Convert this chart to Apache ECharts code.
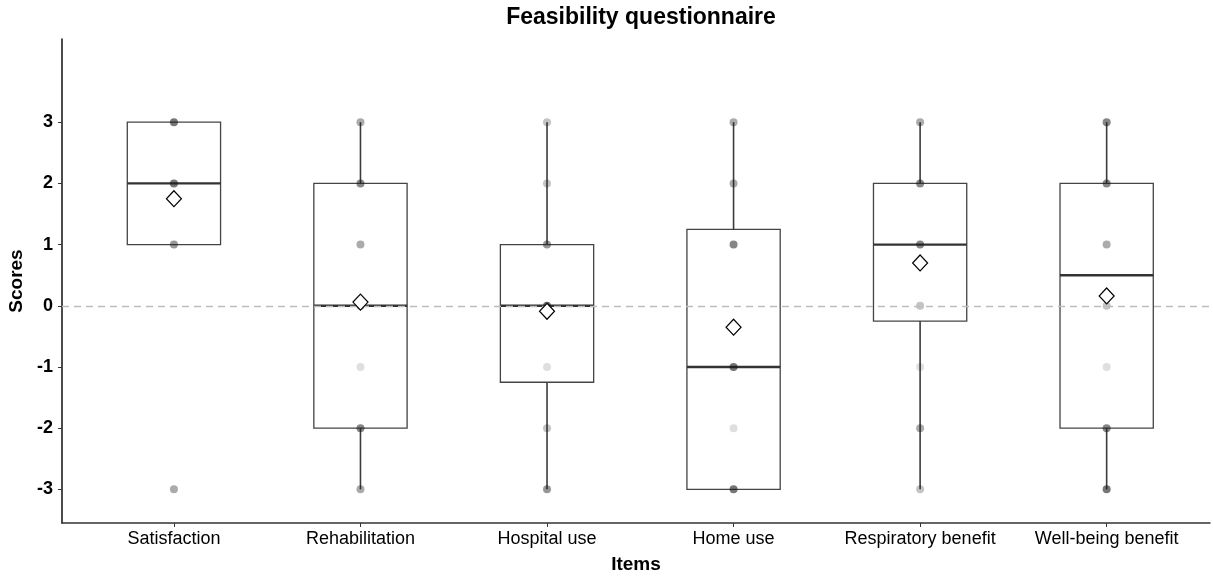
<!DOCTYPE html>
<html><head><meta charset="utf-8">
<script src="https://cdn.jsdelivr.net/npm/echarts@6/dist/echarts.min.js"></script>
<style>html,body{margin:0;padding:0;background:#fff}#c{width:1213px;height:577px}</style>
</head><body><div id="c"></div>
<script>
// ---- data ----
const items = ['Satisfaction', 'Rehabilitation', 'Hospital use', 'Home use', 'Respiratory benefit', 'Well-being benefit'];
const whiskerLow  = [1, -3, -3, -3, -3, -3];
const q1          = [1, -2, -1.25, -3, -0.25, -2];
const median      = [2, 0, 0, -1, 1, 0.5];
const q3          = [3, 2, 1, 1.25, 2, 2];
const whiskerHigh = [3, 3, 3, 3, 3, 3];
const means       = [1.75, 0.06, -0.09, -0.35, 0.70, 0.16];
const scores      = [-3, -2, -1, 0, 1, 2, 3];
// number of responses at each score (order of `scores`), estimated from dot darkness
const countsSatisfaction  = [3, 0, 0, 0, 4, 6, 6];
const countsRehabilitation = [3, 5, 1, 4, 3, 5, 3];
const countsHospital      = [4, 2, 1, 7, 4, 2, 2];
const countsHome          = [6, 1, 6, 0, 5, 3, 3];
const countsRespiratory   = [2, 3, 1, 2, 5, 5, 3];
const countsWellbeing     = [6, 5, 1, 2, 3, 5, 5];
const yTicks = [-3, -2, -1, 0, 1, 2, 3];

const counts = [countsSatisfaction, countsRehabilitation, countsHospital, countsHome, countsRespiratory, countsWellbeing];
const FONT = '"Liberation Sans", Arial, sans-serif';

const boxData = items.map((_, i) => [i, whiskerLow[i], q1[i], median[i], q3[i], whiskerHigh[i]]);
const pointData = [];
items.forEach((_, i) => scores.forEach((s, j) => {
  const n = counts[i][j];
  if (n > 0) pointData.push({ value: [i, s, n], itemStyle: { opacity: 1 - Math.pow(0.86, n) } });
}));
const meanData = items.map((_, i) => [i, means[i]]);

const chart = echarts.init(document.getElementById('c'));
chart.setOption({
  animation: false,
  backgroundColor: '#fff',
  grid: { left: 62, right: 3, top: 39, bottom: 54, containLabel: false, outerBoundsMode: 'none' },
  graphic: [{
    type: 'text', x: 641, y: 17.5,
    style: { text: 'Feasibility questionnaire', fontFamily: FONT, fontWeight: 'bold', fontSize: 23,
             fill: '#000', textAlign: 'center', textVerticalAlign: 'middle' }
  }],
  xAxis: {
    type: 'value', min: -0.6, max: 5.554,
    axisLine: { show: true, onZero: false, lineStyle: { color: '#333', width: 1.5 } },
    axisTick: { show: true, length: 4, lineStyle: { color: '#333' }, customValues: items.map((_, i) => i) },
    axisLabel: { customValues: items.map((_, i) => i), formatter: v => items[Math.round(v)],
                 fontFamily: FONT, fontSize: 18, color: '#000', margin: 7 },
    splitLine: { show: false },
    name: 'Items', nameLocation: 'middle', nameGap: 32,
    nameTextStyle: { fontFamily: FONT, fontWeight: 'bold', fontSize: 19, color: '#000' }
  },
  yAxis: {
    type: 'value', min: -3.55, max: 4.36,
    axisLine: { show: true, onZero: false, lineStyle: { color: '#111', width: 1.5 } },
    axisTick: { show: true, length: 4, lineStyle: { color: '#333' }, customValues: yTicks },
    axisLabel: { customValues: yTicks, fontFamily: FONT, fontWeight: 'bold', fontSize: 18, color: '#000', margin: 9 },
    splitLine: { show: false },
    name: 'Scores', nameLocation: 'middle', nameGap: 27, nameRotate: 90,
    nameTextStyle: { fontFamily: FONT, fontWeight: 'bold', fontSize: 19, color: '#000' }
  },
  series: [
    {
      type: 'custom', z: 2, silent: true,
      data: boxData,
      encode: { x: 0, y: [1, 2, 3, 4, 5] },
      renderItem: (params, api) => {
        const x = api.value(0);
        const lo = api.coord([x, api.value(1)]);
        const p1 = api.coord([x, api.value(2)]);
        const pm = api.coord([x, api.value(3)]);
        const p3 = api.coord([x, api.value(4)]);
        const hi = api.coord([x, api.value(5)]);
        const w = api.size([0.5, 0])[0];
        const cx = lo[0];
        const wl = { stroke: '#3c3c3c', lineWidth: 1.6 };
        return { type: 'group', children: [
          { type: 'line', shape: { x1: cx, y1: hi[1], x2: cx, y2: p3[1] }, style: wl },
          { type: 'line', shape: { x1: cx, y1: p1[1], x2: cx, y2: lo[1] }, style: wl },
          { type: 'rect', shape: { x: cx - w / 2, y: p3[1], width: w, height: p1[1] - p3[1] },
            style: { fill: 'none', stroke: '#444', lineWidth: 1.3 } },
          { type: 'line', shape: { x1: cx - w / 2, y1: pm[1], x2: cx + w / 2, y2: pm[1] },
            style: { stroke: '#333', lineWidth: 2.4 } }
        ]};
      }
    },
    {
      type: 'scatter', z: 4, silent: true,
      data: pointData, symbol: 'circle', symbolSize: 8,
      itemStyle: { color: '#1a1a1a' },
      markLine: {
        silent: true, symbol: ['none', 'none'], label: { show: false },
        lineStyle: { type: [7, 5], color: '#bdbdbd', width: 1.4 },
        data: [{ yAxis: 0 }]
      }
    },
    {
      type: 'scatter', z: 6, silent: true,
      data: meanData, symbol: 'diamond', symbolSize: [15, 16],
      itemStyle: { color: '#fff', borderColor: '#000', borderWidth: 1.2, opacity: 1 }
    }
  ]
});
</script>
</body></html>
